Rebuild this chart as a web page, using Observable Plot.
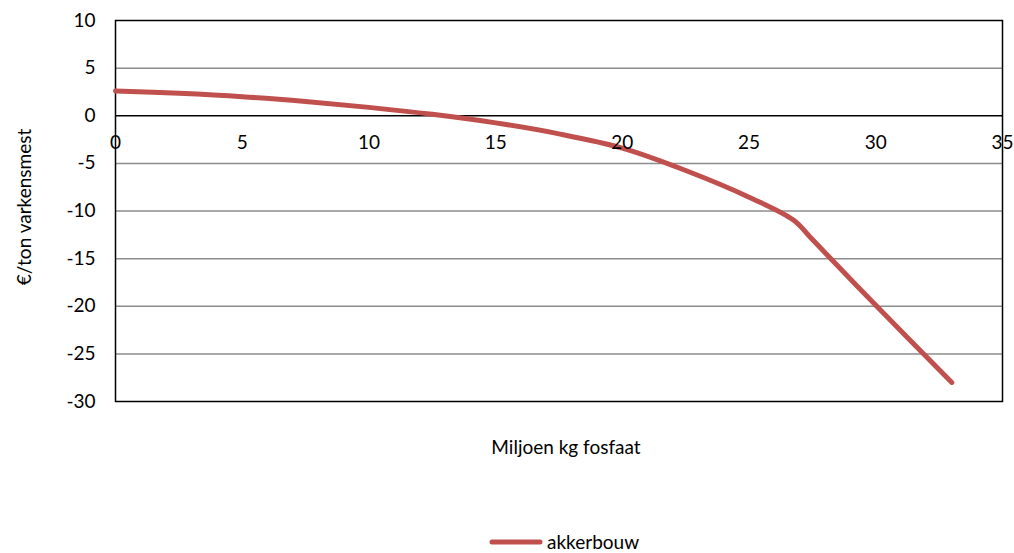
<!DOCTYPE html>
<html>
<head>
<meta charset="utf-8">
<script src="https://cdn.jsdelivr.net/npm/d3@7"></script>
<script src="https://cdn.jsdelivr.net/npm/@observablehq/plot@0.6"></script>
<style>
  html, body { margin: 0; padding: 0; background: #fff; }
  #wrap { position: relative; width: 1014px; height: 553px; font-family: Lato, "Open Sans", sans-serif; color: #000; }
  #chart { position: absolute; top: 0; left: 0; }
  #xlabel { position: absolute; top: 435px; left: 0; width: 1132px; text-align: center; font-size: 19px; line-height: 24px; }
  #ytitle { position: absolute; left: 24px; top: 207px; width: 0; height: 0; }
  #ytitle span { position: absolute; transform: translate(-50%, -50%) rotate(-90deg); white-space: nowrap; font-size: 19px; line-height: 24px; }
  #legend { position: absolute; top: 530px; left: 488px; display: flex; align-items: center; font-size: 19px; line-height: 24px; }
  #legend svg { margin-right: 3px; }
</style>
</head>
<body>
<div id="wrap">
  <div id="chart"></div>
  <div id="ytitle"><span></span></div>
  <div id="xlabel"></div>
  <div id="legend"></div>
</div>
<script>
// Price of pig manure (€/ton) against million kg phosphate, arable farming
const fosfaat = [0, 2.5, 5, 7.5, 10, 12.5, 15, 17.5, 20, 22.5, 25, 26.75, 27.5, 30, 33];
const prijs   = [2.6, 2.35, 2.0, 1.5, 0.88, 0.15, -0.75, -1.9, -3.4, -5.75, -8.55, -10.95, -13.0, -19.9, -28.0];
const seriesName = "akkerbouw";
const xTicks = [0, 5, 10, 15, 20, 25, 30, 35];
const yTicks = [10, 5, 0, -5, -10, -15, -20, -25, -30];
const xTitle = "Miljoen kg fosfaat";
const yTitle = "€/ton varkensmest";
const lineColor = "#C0504D";

const data = fosfaat.map((x, i) => ({x, y: prijs[i]}));

const chart = Plot.plot({
  width: 1014,
  height: 410,
  marginTop: 20,
  marginLeft: 115,
  marginRight: 12,
  marginBottom: 9,
  style: {fontFamily: "Lato, 'Open Sans', sans-serif", fontSize: "19px", color: "#000", background: "#fff", overflow: "visible"},
  x: {domain: [0, 35], axis: null},
  y: {domain: [-30, 10], axis: null},
  marks: [
    Plot.ruleY(yTicks.filter(v => v !== 0 && v !== 10 && v !== -30), {stroke: "#8c8c8c", strokeWidth: 1.5}),
    Plot.ruleY([0], {stroke: "#000", strokeWidth: 1.5}),
    Plot.frame({stroke: "#000", strokeWidth: 1.5}),
    Plot.axisY({ticks: yTicks, tickSize: 0, tickPadding: 20, tickFormat: d => String(d), label: null, fontSize: 19}),
    Plot.line(data, {x: "x", y: "y", stroke: lineColor, strokeWidth: 5, curve: "catmull-rom"}),
    Plot.text(xTicks, {x: d => d, y: 0, dy: 27, text: d => String(d), fontSize: 19, fill: "#000"})
  ]
});
document.getElementById("chart").appendChild(chart);

document.querySelector("#ytitle span").textContent = yTitle;
document.getElementById("xlabel").textContent = xTitle;

// Legend entry
const leg = document.getElementById("legend");
leg.innerHTML = `<svg width="56" height="10"><line x1="4" y1="5" x2="52" y2="5" stroke="${lineColor}" stroke-width="5" stroke-linecap="round"/></svg><span>${seriesName}</span>`;
</script>
</body>
</html>
